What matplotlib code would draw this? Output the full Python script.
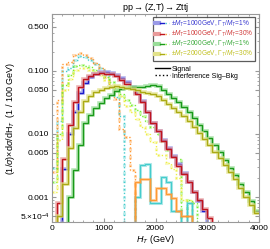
import numpy as np
import matplotlib
matplotlib.use("Agg")
import matplotlib.pyplot as plt
from matplotlib.lines import Line2D
from matplotlib.legend_handler import HandlerTuple

plt.rcParams['font.family'] = ['Liberation Sans', 'DejaVu Sans']
plt.rcParams['mathtext.fontset'] = 'custom'
plt.rcParams['mathtext.rm'] = 'Liberation Sans'
plt.rcParams['mathtext.it'] = 'Liberation Sans:italic'

# H_T bin edges (GeV), 100 GeV bins
ht_edges = np.arange(0, 4001, 100)

# signal, normalised (1/100 GeV)
sig_m1000_w1 = [0, 0, 0.0028, 0.010, 0.022, 0.045, 0.064, 0.080, 0.090, 0.095,
                0.095, 0.093, 0.085, 0.077, 0.066, 0.056, 0.045, 0.033, 0.022, 0.015,
                0.011, 0.008, 0.006, 0.0045, 0.0033, 0.0024, 0.0017, 0.0012, 0.00085, 0.0006,
                0, 0, 0, 0, 0, 0, 0, 0, 0, 0]
sig_m1000_w30 = [0, 0.0008, 0.004, 0.014, 0.032, 0.055, 0.075, 0.083, 0.088, 0.092,
                 0.090, 0.088, 0.082, 0.073, 0.063, 0.053, 0.043, 0.032, 0.022, 0.015,
                 0.011, 0.0078, 0.0058, 0.0043, 0.0031, 0.0023, 0.0017, 0.0012, 0.0009, 0.00065,
                 0.00047, 0, 0, 0, 0, 0, 0, 0, 0, 0]
sig_m2000_w1 = [0, 0, 0, 0.001, 0.0027, 0.0067, 0.015, 0.020, 0.026, 0.031,
                0.037, 0.042, 0.048, 0.052, 0.054, 0.055, 0.055, 0.056, 0.058, 0.060,
                0.058, 0.050, 0.043, 0.037, 0.032, 0.027, 0.022, 0.018, 0.014, 0.011,
                0.0085, 0.0066, 0.0051, 0.0039, 0.0029, 0.0022, 0.0016, 0.0012, 0.00085, 0.0006]
sig_m2000_w30 = [0, 0.0005, 0.0016, 0.006, 0.0125, 0.022, 0.033, 0.040, 0.046, 0.050,
                 0.054, 0.056, 0.057, 0.056, 0.054, 0.052, 0.050, 0.047, 0.045, 0.043,
                 0.040, 0.035, 0.030, 0.026, 0.022, 0.019, 0.016, 0.013, 0.0105, 0.0083,
                 0.0066, 0.0052, 0.0041, 0.0032, 0.0025, 0.0019, 0.0014, 0.0010, 0.00075, 0.00055]

# interference sig-bkg (positive part, dotted)
int_m1000_w1 = [0.0029, 0.016, 0.10, 0.11, 0.15, 0.17, 0.165, 0.15, 0.13, 0.11,
                0.085, 0.055, 0.038, 0.019, 0, 0, 0, 0, 0, 0,
                0, 0, 0, 0, 0, 0, 0, 0, 0, 0,
                0, 0, 0, 0, 0, 0, 0, 0, 0, 0]
int_m1000_w30 = [0.0025, 0.035, 0.13, 0.14, 0.18, 0.19, 0.18, 0.16, 0.135, 0.11,
                 0.08, 0.055, 0.036, 0.012, 0.009, 0.0027, 0, 0, 0, 0,
                 0, 0, 0, 0, 0, 0, 0, 0, 0, 0,
                 0, 0, 0, 0, 0, 0, 0, 0, 0, 0]
int_m2000_w1 = [0.0017, 0.010, 0.06, 0.085, 0.12, 0.125, 0.12, 0.115, 0.105, 0.092,
                0.08, 0.066, 0.054, 0.043, 0.035, 0.029, 0.024, 0.019, 0.016, 0.013,
                0.010, 0.0075, 0.0055, 0.0045, 0.004, 0, 0.0009, 0.0008, 0, 0,
                0, 0, 0, 0, 0, 0, 0, 0, 0, 0]
int_m2000_w30 = [0.0012, 0.008, 0.05, 0.075, 0.105, 0.11, 0.11, 0.105, 0.095, 0.085,
                 0.072, 0.060, 0.050, 0.040, 0.028, 0.022, 0.017, 0.013, 0.010, 0.0075,
                 0.0047, 0.0047, 0.0035, 0.0028, 0.002, 0.0009, 0.0009, 0, 0, 0,
                 0, 0, 0, 0, 0, 0, 0, 0, 0, 0]

# interference, negative part shown as |value| (solid, thin)
neg_m1000_w1 = [0] * 16 + [0.001, 0.0032, 0.0033, 0.0008, 0.0008, 0.0021, 0.0017, 0.0006,
                           0.0006, 0, 0.0008, 0] + [0] * 12
neg_m1000_w30 = [0] * 16 + [0.0017, 0.0019, 0.0019, 0.0009, 0.0014, 0.0014, 0.0011, 0.00095,
                            0.0006, 0.0005, 0.0005, 0] + [0] * 12

labels = [r"$\pm M_T$=1000GeV, $\Gamma_T/M_T$=1%",
          r"$\pm M_T$=1000GeV, $\Gamma_T/M_T$=30%",
          r"$\pm M_T$=2000GeV, $\Gamma_T/M_T$=1%",
          r"$\pm M_T$=2000GeV, $\Gamma_T/M_T$=30%"]

sig_colors = ["#1a1acc", "#c0141e", "#199919", "#aaaa14"]
band_colors = ["#9a9ae6", "#e89a9a", "#99dd99", "#e2e28a"]
int_colors = ["#44cccc", "#ff9933", "#77ee33", "#eeee44"]
text_colors = ["#3a3ad0", "#d03a3a", "#3aaa3a", "#c0c020"]

signals = [sig_m1000_w1, sig_m1000_w30, sig_m2000_w1, sig_m2000_w30]
interfs = [int_m1000_w1, int_m1000_w30, int_m2000_w1, int_m2000_w30]
negs = {0: neg_m1000_w1, 1: neg_m1000_w30}

def clean(v):
    v = np.array(v, dtype=float)
    v[v <= 0] = 1e-7
    return v

fig = plt.figure(figsize=(2.70, 2.49), dpi=100)
ax = fig.add_axes([0.193, 0.108, 0.766, 0.836])

for i in range(4):
    ax.stairs(clean(interfs[i]), ht_edges, baseline=None, color=int_colors[i],
              lw=2.2, alpha=0.35, ls=':')
    ax.stairs(clean(interfs[i]), ht_edges, baseline=None, color=int_colors[i],
              lw=1.0, ls=':')
for i, neg in negs.items():
    ax.stairs(clean(neg), ht_edges, baseline=None, color=int_colors[i], lw=2.2, alpha=0.4)
    ax.stairs(clean(neg), ht_edges, baseline=None, color=int_colors[i], lw=0.9)
for i in range(4):
    ax.stairs(clean(signals[i]), ht_edges, baseline=None, color=band_colors[i], lw=2.6, alpha=0.75)
    ax.stairs(clean(signals[i]), ht_edges, baseline=None, color=sig_colors[i], lw=1.0)

ax.set_yscale('log')
ax.set_xlim(0, 4000)
ax.set_ylim(4e-4, 0.8)
ax.set_xticks([0, 1000, 2000, 3000, 4000])
ax.set_yticks([0.5, 0.1, 0.05, 0.01, 0.005, 0.001, 5e-4])
ax.set_yticklabels(["0.500", "0.100", "0.050", "0.010", "0.005", "0.001",
                    r"5.$\times$10$^{-4}$"])
ax.xaxis.set_minor_locator(matplotlib.ticker.MultipleLocator(200))
ax.tick_params(which='both', direction='in', top=True, right=True,
               labelsize=6, color='#999999', pad=2)
ax.tick_params(which='major', length=3)
ax.tick_params(which='minor', length=1.5)
for s in ax.spines.values():
    s.set_color('#999999')
    s.set_linewidth(0.8)

ax.set_xlabel(r"$H_T$ (GeV)", fontsize=6.5, labelpad=1)
ax.set_ylabel(r"(1/$\sigma$)$\times$d$\sigma$/dH$_T$  (1 / 100 GeV)", fontsize=6.5, labelpad=2)
ax.set_title(r"pp$\rightarrow$(Z,T)$\rightarrow$Zttj", fontsize=6.5, pad=2)

handles = []
for i in range(4):
    h_band = Line2D([], [], color=band_colors[i], lw=3)
    h_sig = Line2D([], [], color=sig_colors[i], lw=1)
    h_int = Line2D([], [], color=int_colors[i], lw=1, ls=':')
    handles.append((h_band, h_sig, h_int))
leg = ax.legend(handles, labels, handler_map={tuple: HandlerTuple(ndivide=None)},
                loc='upper right', bbox_to_anchor=(0.995, 1.0), fontsize=4.7,
                frameon=True, fancybox=False, edgecolor='#333333',
                handlelength=2.2, handletextpad=0.3, borderpad=0.2, labelspacing=0.0,
                handleheight=0.5)
leg.get_frame().set_linewidth(0.9)
for t, c in zip(leg.get_texts(), text_colors):
    t.set_color(c)
ax.add_artist(leg)

# place the line-style key just under the coloured legend box
fig.canvas.draw()
bb = leg.get_window_extent().transformed(ax.transAxes.inverted())
style_handles = [Line2D([], [], color='black', lw=1),
                 Line2D([], [], color='black', lw=1, ls=':')]
leg2 = ax.legend(style_handles, ["Signal", "Interference Sig\u2013Bkg"],
                 loc='upper left', bbox_to_anchor=(0.475, bb.y0 - 0.005), fontsize=5,
                 frameon=False, handlelength=2.2, handletextpad=0.3,
                 borderpad=0.1, labelspacing=0.0)

fig.savefig("out.png", dpi=100)
